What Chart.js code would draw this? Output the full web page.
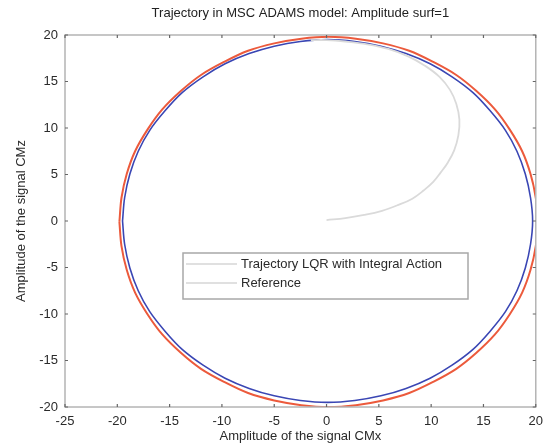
<!DOCTYPE html>
<html>
<head>
<meta charset="utf-8">
<script src="https://cdn.jsdelivr.net/npm/chart.js@4.4.0/dist/chart.umd.min.js"></script>
<style>
  html, body { margin: 0; padding: 0; background: #fff; }
  #wrap { width: 550px; height: 445px; }
</style>
</head>
<body>
<div id="wrap"><canvas id="myChart"></canvas></div>
<script>
// values
const xTicks = [-25, -20, -15, -10, -5, 0, 5, 10, 15, 20];
const yTicks = [-20, -15, -10, -5, 0, 5, 10, 15, 20];

// transient part of the LQR trajectory (starts at origin)
const trajX = [0.0, 1.8, 3.6, 5.3, 6.8, 8.2, 9.3, 10.2, 10.9, 11.6, 12.2, 12.6, 12.7, 12.4, 11.8, 10.8, 9.4, 7.8, 5.9, 3.9, 1.8, 0.0, -1.5];
const trajY = [0.1, 0.3, 0.65, 1.1, 1.7, 2.4, 3.3, 4.2, 5.2, 6.3, 7.6, 9.2, 10.9, 12.6, 14.1, 15.5, 16.7, 17.7, 18.5, 19.0, 19.3, 19.45, 19.45];

// steady orbit of the trajectory (blue), from the left side round the bottom
const orbitX = [-19.5, -19.3, -18.8, -18.0, -16.9, -15.4, -13.8, -11.8, -9.7, -7.4, -5.0, -2.5,
  0.1, 2.7, 5.2, 7.6, 9.9, 12.0, 14.0, 15.6, 17.1, 18.2, 19.0, 19.5,
  19.7, 19.5, 19.0, 18.2, 17.1, 15.6, 14.0, 12.0, 9.9, 7.6, 5.2, 2.7,
  0.1, -2.5, -5.0, -7.4, -9.7, -11.8, -13.8, -15.4, -16.9, -18.0, -18.8, -19.3, -19.5];
const orbitY = [0.0, -2.5, -5.05, -7.5, -9.75, -11.9, -13.8, -15.5, -16.9, -18.0, -18.8, -19.3,
  -19.5, -19.3, -18.8, -18.0, -16.9, -15.5, -13.8, -11.9, -9.75, -7.5, -5.05, -2.5,
  0.0, 2.5, 5.05, 7.5, 9.75, 11.9, 13.8, 15.5, 16.9, 18.0, 18.8, 19.3,
  19.5, 19.3, 18.8, 18.0, 16.9, 15.5, 13.8, 11.9, 9.75, 7.5, 5.05, 2.5, 0.0];

// reference circle (red)
const refX = [-19.8, -19.6, -19.1, -18.3, -17.1, -15.7, -13.9, -12.0, -9.8, -7.5, -5.0, -2.4,
  0.2, 2.8, 5.4, 7.9, 10.2, 12.4, 14.3, 16.1, 17.5, 18.7, 19.5, 20.0,
  20.2, 20.0, 19.5, 18.7, 17.5, 16.1, 14.3, 12.4, 10.2, 7.9, 5.4, 2.8,
  0.2, -2.4, -5.0, -7.5, -9.8, -12.0, -13.9, -15.7, -17.1, -18.3, -19.1, -19.6, -19.8];
const refY = [-0.1, -2.7, -5.25, -7.7, -10.05, -12.2, -14.2, -15.9, -17.3, -18.5, -19.3, -19.8,
  -20.0, -19.8, -19.3, -18.5, -17.3, -15.9, -14.2, -12.2, -10.05, -7.7, -5.25, -2.7,
  -0.1, 2.5, 5.05, 7.5, 9.85, 12.0, 14.0, 15.7, 17.1, 18.3, 19.1, 19.6,
  19.8, 19.6, 19.1, 18.3, 17.1, 15.7, 14.0, 12.0, 9.85, 7.5, 5.05, 2.5, -0.1];

const titleText = 'Trajectory in MSC ADAMS model: Amplitude surf=1';
const legendLabels = ['Trajectory LQR with Integral Action', 'Reference'];

const pts = (xs, ys) => xs.map((x, i) => ({ x: x, y: ys[i] }));
const FONT = 'Liberation Sans, Arial, sans-serif';

// matlab style box with inward ticks, title and legend
const matlabBox = {
  id: 'matlabBox',
  afterDatasetsDraw(chart) {
    const { ctx, chartArea: a, scales } = chart;
    ctx.save();
    ctx.strokeStyle = '#b4b4b4';
    ctx.lineWidth = 1.5;
    ctx.strokeRect(a.left, a.top, a.right - a.left, a.bottom - a.top);

    ctx.strokeStyle = '#666';
    ctx.lineWidth = 1.2;
    ctx.beginPath();
    xTicks.forEach(v => {
      const px = scales.x.getPixelForValue(v);
      ctx.moveTo(px, a.bottom); ctx.lineTo(px, a.bottom - 3);
      ctx.moveTo(px, a.top); ctx.lineTo(px, a.top + 3);
    });
    yTicks.forEach(v => {
      const py = scales.y.getPixelForValue(v);
      ctx.moveTo(a.left, py); ctx.lineTo(a.left + 3, py);
      ctx.moveTo(a.right, py); ctx.lineTo(a.right - 3, py);
    });
    ctx.stroke();

    // title
    ctx.fillStyle = '#222';
    ctx.font = '13px ' + FONT;
    ctx.textAlign = 'center';
    ctx.textBaseline = 'middle';
    ctx.fillText(titleText, (a.left + a.right) / 2, 13);

    // legend
    const lx = 183, ly = 253, lw = 285, lh = 46;
    ctx.fillStyle = '#fff';
    ctx.fillRect(lx, ly, lw, lh);
    ctx.strokeStyle = '#a8a8a8';
    ctx.lineWidth = 1.5;
    ctx.strokeRect(lx, ly, lw, lh);
    ctx.textAlign = 'left';
    ctx.font = '13px ' + FONT;
    legendLabels.forEach((t, i) => {
      const yy = ly + 11 + i * 19;
      ctx.strokeStyle = '#d6d6d6';
      ctx.lineWidth = 1.5;
      ctx.beginPath();
      ctx.moveTo(lx + 3, yy); ctx.lineTo(lx + 54, yy);
      ctx.stroke();
      ctx.fillStyle = '#2a2a2a';
      ctx.fillText(t, lx + 58, yy);
    });
    ctx.restore();
  }
};

new Chart(document.getElementById('myChart').getContext('2d'), {
  type: 'scatter',
  data: {
    datasets: [
      {
        label: legendLabels[0],
        data: pts(trajX, trajY),
        showLine: true,
        borderColor: '#dadada',
        borderWidth: 1.8,
        pointRadius: 0,
        tension: 0.4,
        order: 1
      },
      {
        label: 'Trajectory orbit',
        data: pts(orbitX, orbitY),
        showLine: true,
        borderColor: '#3a46b4',
        borderWidth: 1.6,
        pointRadius: 0,
        tension: 0.34,
        order: 2
      },
      {
        label: legendLabels[1],
        data: pts(refX, refY),
        showLine: true,
        borderColor: '#ec5a3c',
        borderWidth: 2,
        pointRadius: 0,
        tension: 0.34,
        order: 3
      }
    ]
  },
  plugins: [matlabBox],
  options: {
    responsive: true,
    maintainAspectRatio: false,
    animation: false,
    layout: { padding: { top: 35, right: 10, left: 0, bottom: 0 } },
    plugins: {
      legend: { display: false },
      tooltip: { enabled: false }
    },
    scales: {
      x: {
        type: 'linear',
        min: -25,
        max: 20,
        afterBuildTicks: s => { s.ticks = xTicks.map(v => ({ value: v })); },
        afterFit: s => { s.height = 38; },
        grid: { display: false, drawTicks: false },
        border: { display: false },
        ticks: { padding: 7, color: '#2a2a2a', font: { family: FONT, size: 13 } },
        title: {
          display: true,
          text: 'Amplitude of the signal CMx',
          color: '#2a2a2a',
          font: { family: FONT, size: 13 },
          padding: { top: 0, bottom: 1 }
        }
      },
      y: {
        type: 'linear',
        min: -20,
        max: 20,
        afterBuildTicks: s => { s.ticks = yTicks.map(v => ({ value: v })); },
        afterFit: s => { s.width = 65; },
        grid: { display: false, drawTicks: false },
        border: { display: false },
        ticks: { padding: 7, color: '#2a2a2a', font: { family: FONT, size: 13 } },
        title: {
          display: true,
          text: 'Amplitude of the signal CMz',
          color: '#2a2a2a',
          font: { family: FONT, size: 13 },
          padding: { top: 14, bottom: 0 }
        }
      }
    }
  }
});
</script>
</body>
</html>
